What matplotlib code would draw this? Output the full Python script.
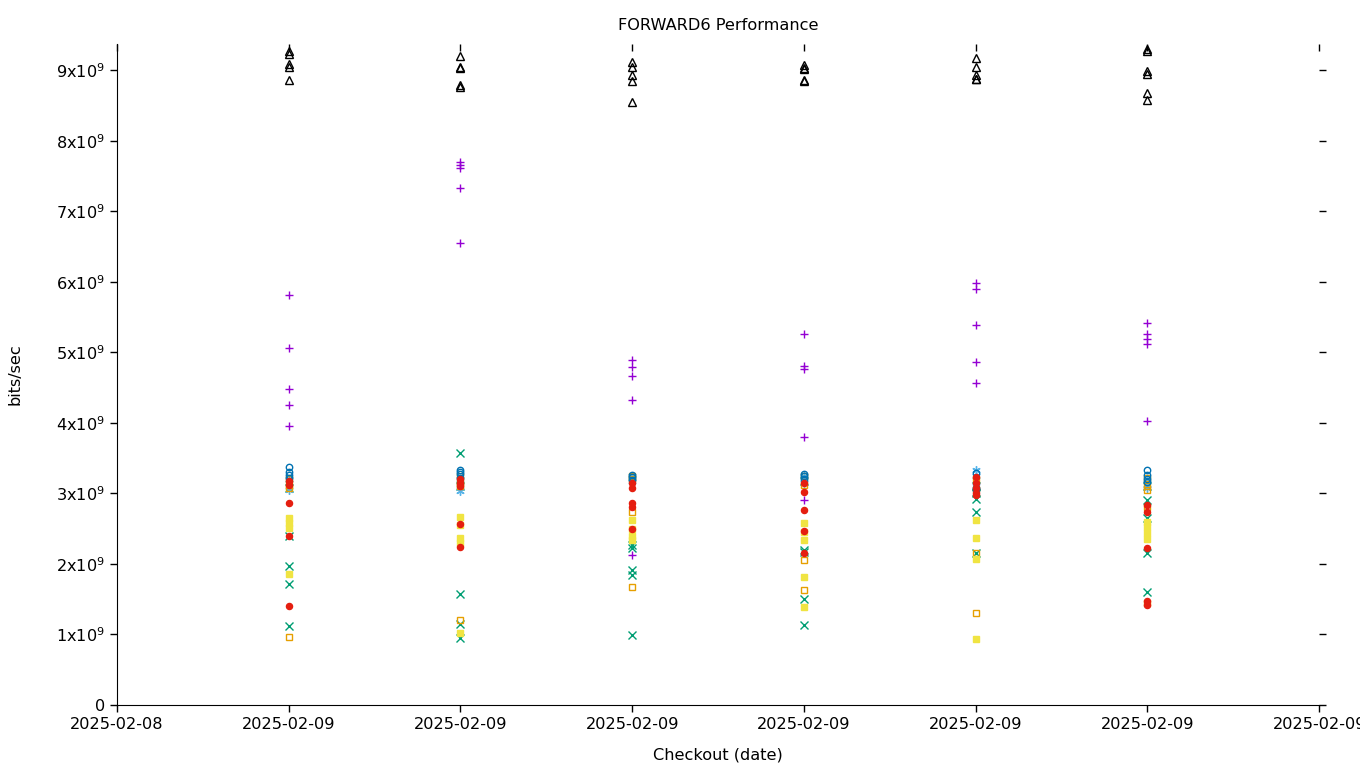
import matplotlib
matplotlib.use("Agg")
import matplotlib.pyplot as plt
import matplotlib.dates as mdates
import matplotlib.lines as mlines
from matplotlib.ticker import FixedLocator, FuncFormatter
from datetime import datetime, timedelta

# checkout times (one column of runs per checkout)
checkouts = ["2025-02-09 01:00", "2025-02-09 04:00", "2025-02-09 07:00",
             "2025-02-09 10:00", "2025-02-09 13:00", "2025-02-09 16:00"]
x_start = "2025-02-08 22:00"
x_end = "2025-02-09 19:00"

# values in units of 1e9 bits/sec, per checkout
s1_purple = [[5.81, 5.06, 4.48, 4.25, 3.95], [7.70, 7.65, 7.61, 7.33, 6.55],
             [4.89, 4.79, 4.66, 4.32, 2.13], [5.26, 4.80, 4.76, 3.80, 2.91],
             [5.98, 5.90, 5.39, 4.86, 4.56], [5.41, 5.26, 5.19, 5.12, 4.03]]
s2_green = [[3.07, 2.40, 1.97, 1.72, 1.12], [3.57, 3.10, 1.57, 1.15, 0.95],
            [2.27, 2.22, 1.91, 1.85, 0.99], [3.18, 2.20, 1.50, 1.13, 2.17],
            [3.00, 2.92, 2.74, 2.16, 3.10], [3.10, 2.90, 2.65, 2.15, 1.60]]
s3_lightblue = [[3.20, 3.15, 3.05], [3.20, 3.10, 3.03], [3.25, 3.22, 3.18],
                [3.25, 3.20, 3.15], [3.33, 3.25, 3.10], [3.20, 3.12, 3.07]]
s4_orange = [[3.20, 3.12, 3.08, 0.96], [3.25, 3.15, 3.10, 1.20],
             [3.25, 3.20, 2.73, 1.67], [3.25, 3.12, 2.05, 1.63],
             [3.20, 3.06, 2.16, 1.30], [3.22, 3.10, 3.05, 2.80, 1.45]]
s5_yellow = [[2.65, 2.58, 2.51, 1.86], [2.66, 2.55, 2.37, 2.30, 1.02],
             [2.62, 2.50, 2.40, 2.34], [2.58, 2.45, 2.34, 1.81, 1.39],
             [2.62, 2.37, 2.07, 0.94], [2.60, 2.52, 2.44, 2.36]]
s6_blue = [[3.38, 3.30, 3.26, 3.22], [3.33, 3.30, 3.27, 3.22],
           [3.26, 3.23, 3.19], [3.28, 3.25, 3.20],
           [3.29, 3.07, 3.05], [3.33, 3.26, 3.20, 3.16]]
s7_red = [[3.17, 3.12, 2.87, 2.40, 1.41], [3.20, 3.15, 3.10, 2.57, 2.24],
          [3.15, 3.07, 2.86, 2.81, 2.49], [3.15, 3.02, 2.76, 2.47, 2.15],
          [3.23, 3.15, 3.08, 3.00, 2.98], [2.83, 2.74, 2.22, 1.47, 1.42]]
s8_black = [[9.27, 9.23, 9.08, 9.04, 8.86], [9.20, 9.05, 9.03, 8.79, 8.76],
            [9.12, 9.05, 8.93, 8.85, 8.55], [9.07, 9.03, 9.01, 8.86, 8.85],
            [9.17, 9.05, 8.93, 8.88, 8.87], [9.30, 9.27, 8.99, 8.95, 8.67, 8.57]]

series = [
    (s1_purple, "#9400d3", "+", False, 6.2),
    (s2_green, "#009e73", "x", False, 6),
    (s3_lightblue, "#56b4e9", (6, 2, 0), False, 6),
    (s4_orange, "#e69f00", "s", True, 4.6),
    (s5_yellow, "#f0e442", "s", False, 4.8),
    (s6_blue, "#0072b2", "o", True, 4.6),
    (s7_red, "#e51e10", "o", False, 4.4),
    (s8_black, "#000000", "^", True, 5.2),
]

fmt = "%Y-%m-%d %H:%M"
xs = [datetime.strptime(c, fmt) for c in checkouts]
FS = 11.6

fig = plt.figure(figsize=(13.6, 7.68), dpi=100)
ax = fig.add_axes([0.086, 0.082, 0.884, 0.8607])

for data, color, marker, hollow, ms in series:
    px, py = [], []
    for xd, vals in zip(xs, data):
        for v in vals:
            px.append(xd)
            py.append(v * 1e9)
    if hollow:
        ax.plot(px, py, linestyle="none", marker=marker, markersize=ms,
                markerfacecolor="none", markeredgecolor=color, markeredgewidth=1.0)
    else:
        ax.plot(px, py, linestyle="none", marker=marker, markersize=ms,
                color=color, markeredgewidth=1.0)

x0 = datetime.strptime(x_start, fmt)
x1 = datetime.strptime(x_end, fmt)
ax.set_xlim(x0, x1)
ax.set_ylim(0, 9.37e9)

xticks = [x0 + timedelta(hours=3 * i) for i in range(8)]
ax.set_xticks(xticks)
ax.xaxis.set_major_formatter(mdates.DateFormatter("%Y-%m-%d"))

yt = [i * 1e9 for i in range(10)]
ax.yaxis.set_major_locator(FixedLocator(yt))
ax.yaxis.set_major_formatter(FuncFormatter(
    lambda v, p: "0" if v == 0 else r"%dx10$^{9}$" % round(v / 1e9)))

for s in ("top", "right"):
    ax.spines[s].set_visible(False)
ax.tick_params(axis="both", labelsize=FS, direction="out", length=5, width=1)
ax.tick_params(axis="x", top=True, which="major")
ax.tick_params(axis="y", right=True, which="major")
for t in ax.xaxis.get_major_ticks():
    t.tick2line.set_marker(mlines.TICKDOWN)
    t.tick2line.set_markersize(5)
for t in ax.yaxis.get_major_ticks():
    t.tick2line.set_marker(mlines.TICKRIGHT)
    t.tick2line.set_markersize(5)

ax.set_title("FORWARD6 Performance", fontsize=FS, pad=10)
ax.set_xlabel("Checkout (date)", fontsize=FS, labelpad=11)
ax.set_ylabel("bits/sec", fontsize=FS, labelpad=24)

fig.savefig("out.png", dpi=100)
